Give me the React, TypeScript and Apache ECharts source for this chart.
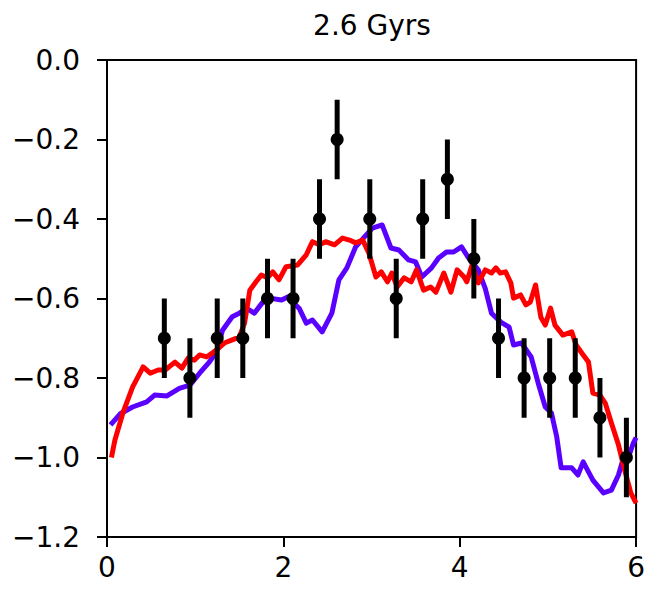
import React, { useEffect, useRef } from "react";
import * as echarts from "echarts";

const TITLE = "2.6 Gyrs";
const X_TICKS = [0, 2, 4, 6];
const Y_TICKS = [0, -0.2, -0.4, -0.6, -0.8, -1.0, -1.2];

const obsX = [0.65, 0.94, 1.25, 1.54, 1.82, 2.11, 2.41, 2.61, 2.98, 3.28, 3.58, 3.86, 4.16, 4.44, 4.73, 5.02, 5.31, 5.59, 5.89];
const obsY = [-0.7, -0.8, -0.7, -0.7, -0.6, -0.6, -0.4, -0.2, -0.4, -0.6, -0.4, -0.3, -0.5, -0.7, -0.8, -0.8, -0.8, -0.9, -1.0];
const obsErr = [0.1, 0.1, 0.1, 0.1, 0.1, 0.1, 0.1, 0.1, 0.1, 0.1, 0.1, 0.1, 0.1, 0.1, 0.1, 0.1, 0.1, 0.1, 0.1];

const purpleX = [0.04, 0.15, 0.29, 0.45, 0.54, 0.68, 0.82, 0.94, 1.05, 1.16, 1.24, 1.31, 1.42, 1.5, 1.58, 1.67, 1.76, 1.84, 1.98, 2.05, 2.18, 2.26, 2.33, 2.44, 2.55, 2.63, 2.72, 2.82, 2.92, 3.01, 3.12, 3.22, 3.31, 3.42, 3.5, 3.57, 3.68, 3.76, 3.85, 3.93, 4.02, 4.1, 4.21, 4.29, 4.36, 4.47, 4.56, 4.61, 4.7, 4.81, 4.89, 4.97, 5.04, 5.1, 5.15, 5.27, 5.34, 5.4, 5.51, 5.63, 5.72, 5.8, 5.85, 5.89, 5.97, 6.0];
const purpleY = [-0.918, -0.89, -0.873, -0.86, -0.843, -0.845, -0.826, -0.818, -0.788, -0.76, -0.735, -0.68, -0.646, -0.637, -0.624, -0.637, -0.611, -0.599, -0.604, -0.596, -0.625, -0.662, -0.654, -0.684, -0.637, -0.553, -0.523, -0.47, -0.445, -0.423, -0.415, -0.473, -0.478, -0.503, -0.508, -0.546, -0.523, -0.498, -0.483, -0.483, -0.47, -0.498, -0.528, -0.575, -0.637, -0.66, -0.672, -0.717, -0.712, -0.747, -0.813, -0.873, -0.888, -0.948, -1.026, -1.026, -1.044, -1.011, -1.057, -1.089, -1.082, -1.044, -1.006, -1.014, -0.963, -0.95];

const redX = [0.05, 0.09, 0.18, 0.29, 0.41, 0.49, 0.58, 0.66, 0.77, 0.85, 0.92, 0.99, 1.05, 1.13, 1.24, 1.33, 1.42, 1.5, 1.56, 1.62, 1.69, 1.75, 1.82, 1.88, 1.95, 2.03, 2.16, 2.26, 2.33, 2.41, 2.48, 2.58, 2.67, 2.75, 2.82, 2.9, 2.97, 3.05, 3.11, 3.18, 3.23, 3.29, 3.37, 3.45, 3.51, 3.59, 3.67, 3.73, 3.82, 3.9, 3.97, 4.05, 4.08, 4.14, 4.21, 4.29, 4.36, 4.41, 4.46, 4.52, 4.58, 4.61, 4.69, 4.75, 4.8, 4.86, 4.92, 4.97, 5.03, 5.08, 5.17, 5.27, 5.32, 5.4, 5.46, 5.51, 5.59, 5.65, 5.72, 5.8, 5.87, 5.94, 6.0];
const redY = [-1.0, -0.956, -0.888, -0.823, -0.772, -0.788, -0.78, -0.78, -0.76, -0.775, -0.75, -0.755, -0.742, -0.747, -0.73, -0.712, -0.704, -0.697, -0.662, -0.579, -0.558, -0.541, -0.548, -0.533, -0.553, -0.52, -0.516, -0.49, -0.457, -0.465, -0.457, -0.465, -0.448, -0.453, -0.46, -0.453, -0.486, -0.546, -0.533, -0.558, -0.536, -0.571, -0.548, -0.558, -0.528, -0.579, -0.571, -0.584, -0.536, -0.584, -0.528, -0.546, -0.558, -0.516, -0.561, -0.528, -0.536, -0.523, -0.536, -0.533, -0.561, -0.599, -0.591, -0.616, -0.609, -0.566, -0.647, -0.667, -0.624, -0.667, -0.692, -0.684, -0.717, -0.742, -0.76, -0.838, -0.843, -0.863, -0.913, -0.968, -1.031, -1.089, -1.115];

const FONT = "DejaVu Sans";
const FS = 28;

export default function App() {
  const ref = useRef<HTMLDivElement>(null);
  useEffect(() => {
    document.body.style.margin = "0";
    if (!ref.current) return;
    const chart = echarts.init(ref.current, undefined, { renderer: "svg" });
    const fmtY = (v: number) => v.toFixed(1).replace("-", "\u2212");
    chart.setOption({
      animation: false,
      backgroundColor: "#ffffff",
      grid: {
        left: 107,
        right: 11,
        top: 60,
        bottom: 53,
        show: true,
        borderColor: "#000",
        borderWidth: 2,
        backgroundColor: "transparent",
      },
      graphic: [
        {
          type: "text",
          x: 372,
          y: 25,
          style: {
            text: TITLE,
            font: `${FS}px '${FONT}'`,
            fill: "#000",
            textAlign: "center",
            textVerticalAlign: "middle",
          },
        },
      ],
      xAxis: {
        type: "value",
        min: X_TICKS[0],
        max: X_TICKS[X_TICKS.length - 1],
        interval: 2,
        splitLine: { show: false },
        axisLine: { show: true, onZero: false, lineStyle: { color: "#000", width: 2 } },
        axisTick: { show: true, inside: false, length: 10, lineStyle: { color: "#000", width: 2 } },
        axisLabel: {
          color: "#000",
          fontFamily: FONT,
          fontSize: FS,
          margin: 16,
          formatter: (v: number) => String(v),
        },
      },
      yAxis: {
        type: "value",
        min: Y_TICKS[Y_TICKS.length - 1],
        max: Y_TICKS[0],
        interval: 0.2,
        splitLine: { show: false },
        axisLine: { show: true, onZero: false, lineStyle: { color: "#000", width: 2 } },
        axisTick: { show: true, inside: false, length: 10, lineStyle: { color: "#000", width: 2 } },
        axisLabel: {
          color: "#000",
          fontFamily: FONT,
          fontSize: FS,
          margin: 27,
          formatter: fmtY,
        },
      },
      series: [
        {
          type: "line",
          data: purpleX.map((x, i) => [x, purpleY[i]]),
          showSymbol: false,
          symbol: "none",
          lineStyle: { color: "#5a00ff", width: 5, join: "round" },
          clip: true,
          z: 2,
        },
        {
          type: "line",
          data: redX.map((x, i) => [x, redY[i]]),
          showSymbol: false,
          symbol: "none",
          lineStyle: { color: "#ff0000", width: 5, join: "round" },
          clip: true,
          z: 3,
        },
        {
          type: "custom",
          data: obsX.map((x, i) => [x, obsY[i], obsErr[i]]),
          renderItem: (params: any, api: any) => {
            const x = api.value(0);
            const y = api.value(1);
            const e = api.value(2);
            const p1 = api.coord([x, y - e]);
            const p2 = api.coord([x, y + e]);
            return {
              type: "line",
              shape: { x1: p1[0], y1: p1[1], x2: p2[0], y2: p2[1] },
              style: { stroke: "#000", lineWidth: 5 },
            };
          },
          z: 4,
        },
        {
          type: "scatter",
          data: obsX.map((x, i) => [x, obsY[i]]),
          symbol: "circle",
          symbolSize: 13,
          itemStyle: { color: "#000", opacity: 1 },
          z: 5,
        },
      ],
    });
    return () => chart.dispose();
  }, []);
  return <div ref={ref} style={{ width: 648, height: 590 }} />;
}
